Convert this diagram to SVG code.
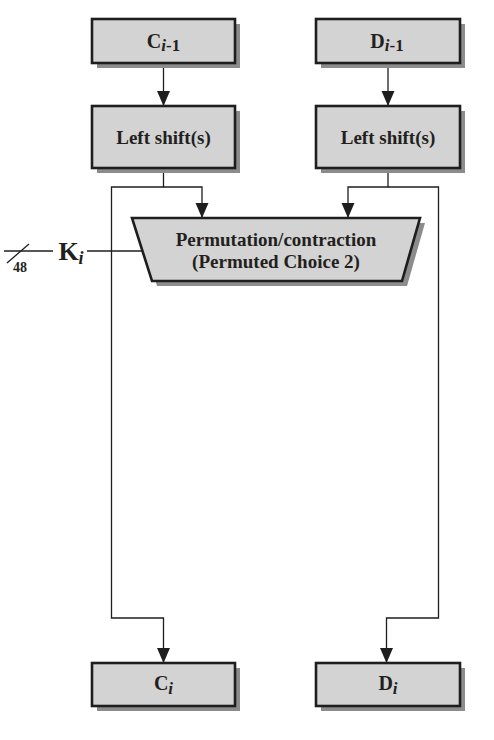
<svg xmlns="http://www.w3.org/2000/svg" width="494" height="740" viewBox="0 0 494 740">
<style>
.box{fill:#d3d3d3;stroke:#1e1e1e;stroke-width:2.6}
.sh{fill:#8c8c8c}
.t{font-family:"Liberation Serif","Times New Roman",serif;font-weight:bold;fill:#231f20;text-anchor:middle}
.ln{fill:none;stroke:#1e1e1e;stroke-width:1.3}
</style>
<defs>
<marker id="ah" markerUnits="userSpaceOnUse" markerWidth="15" markerHeight="14" refX="15" refY="6.5" orient="auto">
<path d="M0,0 L15,6.5 L0,13 z" fill="#1e1e1e"/>
</marker>
</defs>
<rect width="494" height="740" fill="#ffffff"/>
<g id="connectors">
<line class="ln" x1="163.5" y1="64" x2="163.5" y2="106" marker-end="url(#ah)"/>
<line class="ln" x1="388" y1="64" x2="388" y2="106" marker-end="url(#ah)"/>
<polyline class="ln" points="163.5,169 163.5,187 202,187 202,218" marker-end="url(#ah)"/>
<polyline class="ln" points="388,169 388,187 348,187 348,218" marker-end="url(#ah)"/>
<polyline class="ln" points="163.5,187 111.5,187 111.5,618 163.5,618 163.5,663" marker-end="url(#ah)"/>
<polyline class="ln" points="388,187 438.5,187 438.5,618 386.5,618 386.5,663" marker-end="url(#ah)"/>
<line class="ln" x1="4" y1="251" x2="53" y2="251"/>
<line class="ln" x1="7" y1="263" x2="29" y2="244"/>
<line class="ln" x1="87" y1="251" x2="143" y2="251"/>
</g>
<g id="C_prev">
<rect class="sh" x="97" y="24" width="143" height="44"/>
<rect class="box" x="92" y="19" width="143" height="44"/>
<text class="t" x="163.5" y="48" font-size="20">C<tspan font-size="17" dy="3" font-style="italic">i</tspan><tspan font-size="17">-1</tspan></text>
</g>
<g id="D_prev">
<rect class="sh" x="321" y="24" width="144" height="44"/>
<rect class="box" x="316" y="19" width="144" height="44"/>
<text class="t" x="387" y="48" font-size="20">D<tspan font-size="17" dy="3" font-style="italic">i</tspan><tspan font-size="17">-1</tspan></text>
</g>
<g id="LS_left">
<rect class="sh" x="97" y="111" width="143" height="62"/>
<rect class="box" x="92" y="106" width="143" height="62"/>
<text class="t" x="163.5" y="144" font-size="19">Left shift(s)</text>
</g>
<g id="LS_right">
<rect class="sh" x="321" y="111" width="144" height="62"/>
<rect class="box" x="316" y="106" width="144" height="62"/>
<text class="t" x="388" y="144" font-size="19">Left shift(s)</text>
</g>
<g id="PC2">
<polygon class="sh" points="137,223 425,223 407,286 157,286"/>
<polygon class="box" points="132,218 420,218 402,281 152,281"/>
<text class="t" x="276" y="246" font-size="19">Permutation/contraction</text>
<text class="t" x="276" y="268" font-size="19">(Permuted Choice 2)</text>
</g>
<g id="Ki">
<text class="t" x="20" y="272" font-size="14">48</text>
<text class="t" x="71" y="260" font-size="26">K<tspan font-size="18" dy="4" font-style="italic">i</tspan></text>
</g>
<g id="C_out">
<rect class="sh" x="97" y="668" width="143" height="43"/>
<rect class="box" x="92" y="663" width="143" height="43"/>
<text class="t" x="163.5" y="690" font-size="20">C<tspan font-size="17" dy="4" font-style="italic">i</tspan></text>
</g>
<g id="D_out">
<rect class="sh" x="321" y="668" width="144" height="43"/>
<rect class="box" x="316" y="663" width="144" height="43"/>
<text class="t" x="388" y="690" font-size="20">D<tspan font-size="17" dy="4" font-style="italic">i</tspan></text>
</g>
</svg>
